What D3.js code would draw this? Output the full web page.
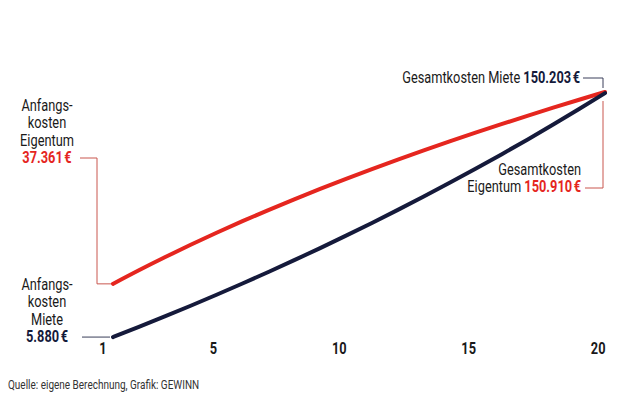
<!DOCTYPE html>
<html>
<head>
<meta charset="utf-8">
<script src="https://cdn.jsdelivr.net/npm/d3@7"></script>
<style>
  html, body { margin: 0; padding: 0; background: #ffffff; }
  svg text { font-family: "Roboto", "Noto Sans", sans-serif; }
</style>
</head>
<body>
<svg id="chart" width="620" height="398"></svg>
<script>
// Cumulative costs over 20 years (EUR)
const years = d3.range(1, 21);
const mieteKosten = [5880, 11907, 18085, 24417, 30907, 37560, 44379, 51368, 58533, 65876,
                     73403, 81118, 89026, 97132, 105440, 113956, 122685, 131632, 140803, 150203];
const eigentumKosten = [37361, 45392, 53095, 60491, 67600, 74440, 81033, 87398, 93555, 99514,
                        105294, 110905, 116358, 121662, 126828, 131865, 136782, 141590, 146299, 150910];
const tickYears = [1, 5, 10, 15, 20];

const RED = "#e5261f";
const NAVY = "#151a3b";
const INK = "#1a1a1a";
const SX = 0.8; // narrow type
const fmt = v => d3.format(",")(v).replace(/,/g, ".") + "\u202f€";

const svg = d3.select("#chart");
const x = d3.scaleLinear().domain([1, 20]).range([113, 605]);
const y = d3.scaleLinear().domain([0, 150000]).range([347, 93.5]);

// x axis labels only (narrow bold)
const axis = svg.append("g").attr("transform", "translate(0,354)")
  .call(d3.axisBottom(x).tickValues(tickYears).tickSize(0).tickPadding(0));
axis.select(".domain").remove();
axis.selectAll(".tick text")
  .attr("y", 0).attr("dy", 0).attr("x", 0)
  .attr("text-anchor", "end")
  .attr("transform", d => `translate(${d === 1 ? -7 : 0},0) scale(${SX},1)`)
  .style("font-size", "16px").style("font-weight", "bold").attr("fill", INK);

const line = d3.line().x((d, i) => x(years[i])).y(d => y(d)).curve(d3.curveMonotoneX);

// Connector lines for annotations
const conn = (pts, color) => svg.append("path")
  .attr("d", d3.line()(pts)).attr("fill", "none")
  .attr("stroke", color).attr("stroke-width", 1);

const x0 = x(1);
conn([[80, 158], [97, 158], [97, y(eigentumKosten[0])], [x0 - 2, y(eigentumKosten[0])]], "#c9574f");
conn([[82, y(mieteKosten[0])], [x0 - 3, y(mieteKosten[0])]], "#3a3f5a");
conn([[583, 78], [603, 78], [603, 88]], "#3a3f5a");
conn([[585, 188], [603, 188], [603, 101]], "#c9574f");

svg.append("path").datum(eigentumKosten).attr("d", line)
  .attr("fill", "none").attr("stroke", RED).attr("stroke-width", 4).attr("stroke-linecap", "round");
svg.append("path").datum(mieteKosten).attr("d", line)
  .attr("fill", "none").attr("stroke", NAVY).attr("stroke-width", 4).attr("stroke-linecap", "round");

// Text annotations
function block(xc, yStart, lines, anchor) {
  const g = svg.append("g").attr("transform", `translate(${xc},${yStart}) scale(${SX},1)`);
  const t = g.append("text").attr("text-anchor", anchor).style("font-size", "16px").attr("fill", INK);
  lines.forEach((ln, i) => {
    const ts = t.append("tspan").attr("x", 0).attr("y", i * 17.5);
    ln.forEach(part => {
      ts.append("tspan").text(part.t)
        .style("font-weight", part.b ? "bold" : "normal")
        .attr("fill", part.c || INK);
    });
  });
}

block(47, 111, [[{t: "Anfangs-"}], [{t: "kosten"}], [{t: "Eigentum"}],
  [{t: fmt(eigentumKosten[0]), b: true, c: RED}]], "middle");
block(47, 290, [[{t: "Anfangs-"}], [{t: "kosten"}], [{t: "Miete"}],
  [{t: fmt(mieteKosten[0]), b: true, c: NAVY}]], "middle");
block(580, 83, [[{t: "Gesamtkosten Miete "}, {t: fmt(mieteKosten[19]), b: true, c: NAVY}]], "end");
block(581, 175, [[{t: "Gesamtkosten"}],
  [{t: "Eigentum "}, {t: fmt(eigentumKosten[19]), b: true, c: RED}]], "end");

svg.append("g").attr("transform", `translate(8,389) scale(${SX},1)`)
  .append("text").style("font-size", "12.5px").attr("fill", "#333")
  .text("Quelle: eigene Berechnung, Grafik: GEWINN");
</script>
</body>
</html>
